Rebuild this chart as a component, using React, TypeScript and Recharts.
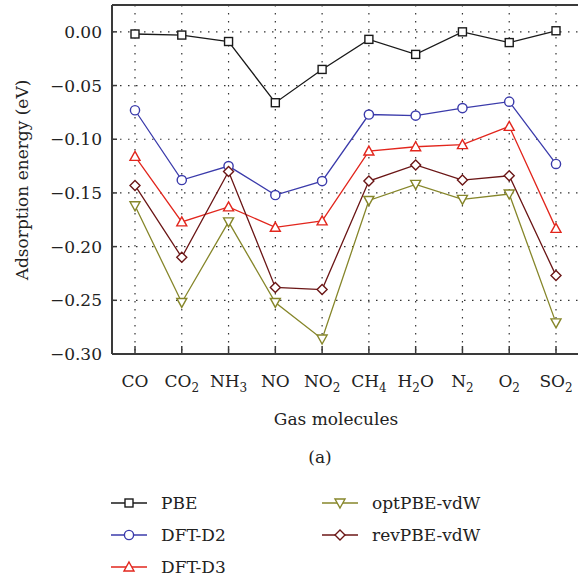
import React from "react";
import { LineChart, Line, XAxis, YAxis, CartesianGrid, ReferenceLine, Label } from "recharts";

// values (eV)
const gasMolecules = ["CO", "CO2", "NH3", "NO", "NO2", "CH4", "H2O", "N2", "O2", "SO2"];
const pbe = [-0.002, -0.003, -0.009, -0.066, -0.035, -0.007, -0.021, 0.0, -0.01, 0.001];
const dftD2 = [-0.073, -0.138, -0.125, -0.152, -0.139, -0.077, -0.078, -0.071, -0.065, -0.123];
const dftD3 = [-0.116, -0.177, -0.163, -0.182, -0.176, -0.111, -0.107, -0.105, -0.088, -0.183];
const optPbeVdw = [-0.162, -0.252, -0.177, -0.252, -0.286, -0.157, -0.142, -0.156, -0.151, -0.271];
const revPbeVdw = [-0.143, -0.21, -0.13, -0.238, -0.24, -0.139, -0.124, -0.138, -0.134, -0.227];
const yTicks = [0, -0.05, -0.1, -0.15, -0.2, -0.25, -0.3];

type MarkerShape = "square" | "circle" | "triangle" | "invTriangle" | "diamond";

interface Series {
    key: string;
    name: string;
    values: number[];
    color: string;
    shape: MarkerShape;
}

const series: Series[] = [
    { key: "pbe", name: "PBE", values: pbe, color: "#1a1a1a", shape: "square" },
    { key: "d2", name: "DFT-D2", values: dftD2, color: "#3b3bab", shape: "circle" },
    { key: "d3", name: "DFT-D3", values: dftD3, color: "#e2261d", shape: "triangle" },
    { key: "opt", name: "optPBE-vdW", values: optPbeVdw, color: "#86862a", shape: "invTriangle" },
    { key: "rev", name: "revPBE-vdW", values: revPbeVdw, color: "#6b1616", shape: "diamond" },
];

const data = gasMolecules.map((gas, i) => {
    const row: Record<string, number | string> = { gas };
    series.forEach((s) => (row[s.key] = s.values[i]));
    return row;
});

const FONT = "'DejaVu Serif', serif";
const AXIS = "#3a3a3a";

const Marker = ({ cx, cy, shape, color }: { cx: number; cy: number; shape: MarkerShape; color: string }) => {
    const p = { fill: "#fff", stroke: color, strokeWidth: 1.4 };
    if (shape === "square") return <rect x={cx - 4} y={cy - 4} width={8} height={8} {...p} />;
    if (shape === "circle") return <circle cx={cx} cy={cy} r={4.6} {...p} />;
    if (shape === "triangle")
        return <polygon points={`${cx},${cy - 5} ${cx + 5},${cy + 4} ${cx - 5},${cy + 4}`} {...p} />;
    if (shape === "invTriangle")
        return <polygon points={`${cx},${cy + 5} ${cx + 5},${cy - 4} ${cx - 5},${cy - 4}`} {...p} />;
    return <polygon points={`${cx},${cy - 5} ${cx + 5},${cy} ${cx},${cy + 5} ${cx - 5},${cy}`} {...p} />;
};

// split "NH3" into ["NH", "3"] so digits become subscripts
const formula = (label: string) => {
    const parts = label.match(/[A-Za-z]+|\d+/g) || [];
    let lowered = false;
    return parts.map((part, i) => {
        if (/\d/.test(part)) {
            lowered = true;
            return (
                <tspan key={i} dy={5} fontSize={12}>
                    {part}
                </tspan>
            );
        }
        if (lowered) {
            lowered = false;
            return (
                <tspan key={i} dy={-5}>
                    {part}
                </tspan>
            );
        }
        return <tspan key={i}>{part}</tspan>;
    });
};

const XTick = (props: any) => {
    const { x, y, payload } = props;
    return (
        <g>
            <line x1={x} y1={y - 8} x2={x} y2={y} stroke={AXIS} strokeWidth={1.5} />
            <text x={x} y={y + 33} textAnchor="middle" fontFamily={FONT} fontSize={17} fill="#222">
                {formula(payload.value)}
            </text>
        </g>
    );
};

const YTick = (props: any) => {
    const { x, y, payload } = props;
    const v: number = payload.value;
    const txt = (v < 0 ? "\u2212" : "") + Math.abs(v).toFixed(2);
    return (
        <g>
            <line x1={x} y1={y} x2={x + 5} y2={y} stroke={AXIS} strokeWidth={1.5} />
            <text x={x - 10} y={y + 6} textAnchor="end" fontFamily={FONT} fontSize={17} fill="#222">
                {txt}
            </text>
        </g>
    );
};

const legendLeft = series.slice(0, 3);
const legendRight = series.slice(3);

const App: React.FC = () => {
    return (
        <div style={{ position: "absolute", left: 0, top: 0, width: 578, height: 584, overflow: "hidden", background: "#fff" }}>
            <LineChart width={579} height={584} data={data} margin={{ top: 5, right: 0, bottom: 170, left: 0 }}>
                <CartesianGrid stroke="#333" strokeDasharray="1.5 6.5" strokeWidth={1.2} />
                <XAxis
                    dataKey="gas"
                    type="category"
                    padding={{ left: 23, right: 23 }}
                    height={60}
                    tickSize={0}
                    tickMargin={0}
                    tickLine={false}
                    tick={<XTick />}
                    interval={0}
                    axisLine={{ stroke: AXIS, strokeWidth: 2 }}
                >
                    <Label
                        content={() => (
                            <text x={336} y={425} textAnchor="middle" fontFamily={FONT} fontSize={17} fill="#222">
                                Gas molecules
                            </text>
                        )}
                    />
                </XAxis>
                <YAxis
                    type="number"
                    width={112}
                    domain={[-0.3, 0.025]}
                    ticks={yTicks}
                    allowDataOverflow
                    tickSize={0}
                    tickMargin={0}
                    tickLine={false}
                    tick={<YTick />}
                    axisLine={{ stroke: AXIS, strokeWidth: 2 }}
                >
                    <Label
                        content={() => (
                            <text
                                x={22}
                                y={180}
                                transform="rotate(-90 22 180)"
                                textAnchor="middle"
                                dominantBaseline="central"
                                fontFamily={FONT}
                                fontSize={17}
                                fill="#222"
                            >
                                Adsorption energy (eV)
                            </text>
                        )}
                    />
                </YAxis>
                <ReferenceLine y={0.025} stroke={AXIS} strokeWidth={2} />
                {series.map((s) => (
                    <Line
                        key={s.key}
                        type="linear"
                        dataKey={s.key}
                        name={s.name}
                        stroke={s.color}
                        strokeWidth={1.3}
                        isAnimationActive={false}
                        activeDot={false}
                        dot={(p: any) => (
                            <Marker key={`${s.key}-${p.index}`} cx={p.cx} cy={p.cy} shape={s.shape} color={s.color} />
                        )}
                    />
                ))}
            </LineChart>
            <svg width={578} height={584} style={{ position: "absolute", left: 0, top: 0, pointerEvents: "none" }}>
                <text x={320} y={463} textAnchor="middle" fontFamily={FONT} fontSize={17} fill="#222">
                    (a)
                </text>
                {[legendLeft, legendRight].map((col, c) =>
                    col.map((s, r) => {
                        const x0 = c === 0 ? 111 : 322;
                        const y0 = 503 + r * 32;
                        return (
                            <g key={s.key}>
                                <line x1={x0} y1={y0} x2={x0 + 36} y2={y0} stroke={s.color} strokeWidth={1.3} />
                                <Marker cx={x0 + 18} cy={y0} shape={s.shape} color={s.color} />
                                <text x={x0 + 50} y={y0 + 6} fontFamily={FONT} fontSize={17} fill="#222">
                                    {s.name}
                                </text>
                            </g>
                        );
                    })
                )}
            </svg>
        </div>
    );
};

export default App;
